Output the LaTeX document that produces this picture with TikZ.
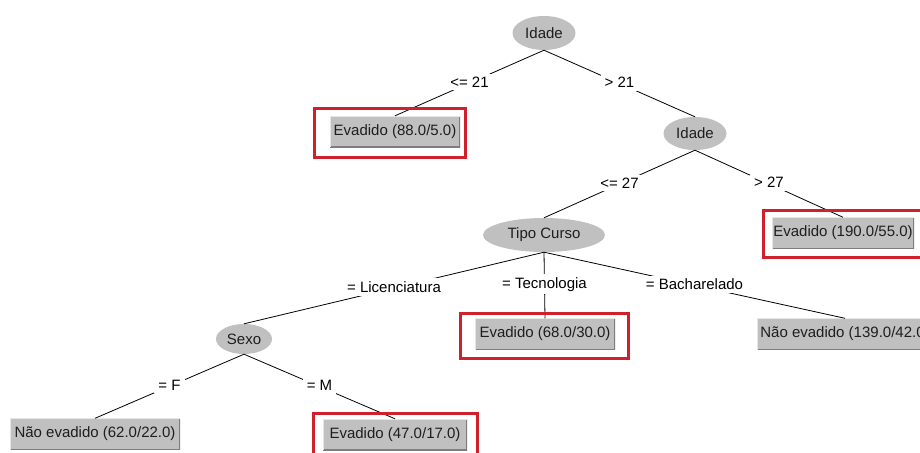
\documentclass[tikz,border=0pt]{standalone}
\usepackage{fontspec}
\setmainfont{Liberation Sans}
\usetikzlibrary{shapes.geometric}
\definecolor{wgray}{RGB}{192,192,192}
\definecolor{wred}{RGB}{208,32,44}
\definecolor{wtext}{RGB}{30,30,30}
\begin{document}
\begin{tikzpicture}[x=1pt,y=-1pt,
  font=\fontsize{15}{18}\selectfont,
  split/.style={ellipse, fill=wgray, inner sep=0pt, text=wtext},
  leaf/.style={rectangle, fill=wgray, inner sep=0pt, minimum height=31pt, text=wtext,
    path picture={
      \draw[line width=1.6pt, draw=wgray!65!black]
        (path picture bounding box.south west) -- (path picture bounding box.south east)
        -- (path picture bounding box.north east);
      \draw[line width=1.2pt, draw=wgray!40!white]
        (path picture bounding box.south west) -- (path picture bounding box.north west)
        -- (path picture bounding box.north east);}},
  lbl/.style={fill=white, inner xsep=4pt, inner ysep=3pt, text=black},
  edge/.style={draw=black, line width=0.8pt},
  hl/.style={draw=wred, line width=3pt}]
\useasboundingbox (0,0) rectangle (920,452);
\clip (0,0) rectangle (920,452);
\fill[white] (0,0) rectangle (920,452);

% nodes
\node[split, minimum width=63pt, minimum height=34pt] (idade1) at (544,33) {Idade};
\node[leaf, minimum width=130pt] (l88) at (395,131.5) {Evadido (88.0/5.0)};
\node[split, minimum width=63pt, minimum height=33pt] (idade2) at (695,133.5) {Idade};
\node[leaf, minimum width=142pt] (l190) at (843,233) {Evadido (190.0/55.0)};
\node[split, minimum width=122pt, minimum height=34pt] (tipo) at (544,235) {Tipo Curso};
\node[split, minimum width=56pt, minimum height=30pt] (sexo) at (244,339) {Sexo};
\node[leaf, minimum width=140pt] (l68) at (545,334) {Evadido (68.0/30.0)};
\node[leaf, minimum width=176pt] (l139) at (845,334) {Não evadido (139.0/42.0)};
\node[leaf, minimum width=170pt] (l62) at (95,434) {Não evadido (62.0/22.0)};
\node[leaf, minimum width=144pt] (l47) at (395,434.5) {Evadido (47.0/17.0)};

% edges
\draw[edge] (idade1.south) -- node[lbl, yshift=1pt]{<= 21} (l88.north);
\draw[edge] (idade1.south) -- node[lbl, yshift=1pt]{> 21} (idade2.north);
\draw[edge] (idade2.south) -- node[lbl, yshift=1pt]{<= 27} (tipo.north);
\draw[edge] (idade2.south) -- node[lbl, yshift=1pt]{> 27} (l190.north);
\draw[edge] (tipo.south) -- node[lbl, yshift=1pt]{= Licenciatura} (sexo.north);
\draw[edge] (tipo.south) -- node[lbl, yshift=1pt]{= Tecnologia} (l68.north);
\draw[edge] (tipo.south) -- node[lbl, yshift=1pt]{= Bacharelado} (l139.north);
\draw[edge] (sexo.south) -- node[lbl, yshift=1pt]{= F} (l62.north);
\draw[edge] (sexo.south) -- node[lbl, yshift=1pt]{= M} (l47.north);

% highlight frames
\draw[hl] (314,108) rectangle (465,157);
\draw[hl] (763,210) rectangle (926,257);
\draw[hl] (460,313) rectangle (628,358);
\draw[hl] (313,413) rectangle (477,458);
\end{tikzpicture}
\end{document}
